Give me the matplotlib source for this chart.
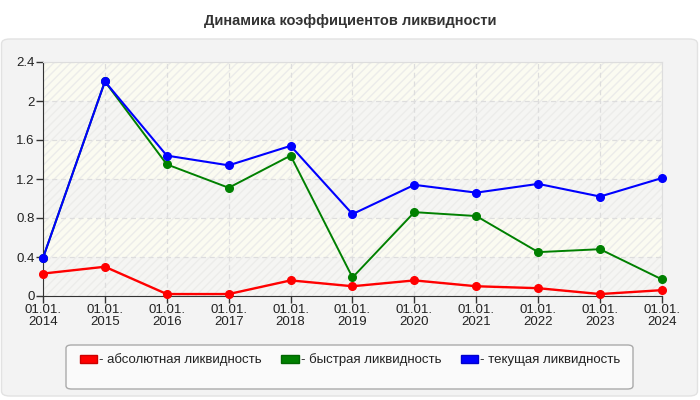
import matplotlib
matplotlib.use("Agg")
import matplotlib.pyplot as plt
from matplotlib.patches import FancyBboxPatch, Patch

plt.rcParams['font.family'] = ['Liberation Sans', 'DejaVu Sans']

# Data
dates = ["01.01.\n2014", "01.01.\n2015", "01.01.\n2016", "01.01.\n2017",
         "01.01.\n2018", "01.01.\n2019", "01.01.\n2020", "01.01.\n2021",
         "01.01.\n2022", "01.01.\n2023", "01.01.\n2024"]
absolute = [0.23, 0.30, 0.02, 0.02, 0.16, 0.10, 0.16, 0.10, 0.08, 0.02, 0.06]
quick = [0.39, 2.20, 1.35, 1.11, 1.44, 0.19, 0.86, 0.82, 0.45, 0.48, 0.17]
current = [0.39, 2.20, 1.44, 1.34, 1.54, 0.84, 1.14, 1.06, 1.15, 1.02, 1.21]
y_ticks = [0, 0.4, 0.8, 1.2, 1.6, 2.0, 2.4]
y_labels = ["0", "0.4", "0.8", "1.2", "1.6", "2", "2.4"]

fig = plt.figure(figsize=(7, 4), dpi=100)
fig.patch.set_facecolor("white")

# panel behind the chart
panel = FancyBboxPatch((1.5 / 700, 4 / 400), 696 / 700, 357 / 400,
                       boxstyle="round,pad=0,rounding_size=0.012",
                       transform=fig.transFigure, facecolor="#f3f3f3",
                       edgecolor="#e2e2e2", linewidth=1, zorder=-10)
fig.patches.append(panel)

# legend box
legbox = FancyBboxPatch((66 / 700, 11 / 400), 567 / 700, 44 / 400,
                        boxstyle="round,pad=0,rounding_size=0.008",
                        transform=fig.transFigure, facecolor="#fafafa",
                        edgecolor="#aaaaaa", linewidth=1, zorder=-5)
fig.patches.append(legbox)

fig.text(0.5, 0.948, "Динамика коэффициентов ликвидности", ha="center",
         va="center", fontsize=10.5, fontweight="bold", color="#333333")

ax = fig.add_axes([43 / 700, 104 / 400, 619 / 700, 234 / 400])
ax.set_facecolor("#fcfcf6")

x = list(range(len(dates)))

# striped bands
for i in range(len(y_ticks) - 1):
    fc = "#f5f5f3" if i % 2 == 0 else "#fbfbf1"
    ax.axhspan(y_ticks[i], y_ticks[i + 1], facecolor=fc, edgecolor="#ececea",
               hatch="////", linewidth=0, zorder=0)

ax.grid(True, color="#dddddd", linestyle=(0, (4, 3)), linewidth=0.9, zorder=1)

ax.plot(x, absolute, color="#ff0000", linewidth=1.7, marker="o",
        markersize=5.5, zorder=3, clip_on=False)
ax.plot(x, quick, color="#008000", linewidth=1.4, marker="o",
        markersize=5.5, zorder=4, clip_on=False)
ax.plot(x, current, color="#0000ff", linewidth=1.5, marker="o",
        markersize=5.5, zorder=5, clip_on=False)

ax.set_xlim(0, len(dates) - 1)
ax.set_ylim(0, 2.4)
ax.set_xticks(x)
ax.set_xticklabels(dates, fontsize=9.5, color="#222222", linespacing=1.0)
ax.set_yticks(y_ticks)
ax.set_yticklabels(y_labels, fontsize=9.5, color="#222222")
ax.tick_params(length=5, width=1, color="#333333", pad=1)

for side in ["left", "bottom"]:
    ax.spines[side].set_color("#333333")
for side in ["top", "right"]:
    ax.spines[side].set_color("#dddddd")

handles = [Patch(facecolor="#ff0000", edgecolor="#cc0000"),
           Patch(facecolor="#008000", edgecolor="#006600"),
           Patch(facecolor="#0000ff", edgecolor="#0000cc")]
labels = ["- абсолютная ликвидность", "- быстрая ликвидность",
          "- текущая ликвидность"]
leg = fig.legend(handles, labels, loc="center", ncol=3,
                 bbox_to_anchor=(350 / 700, 1 - 360 / 400), fontsize=9.5,
                 frameon=False, handlelength=1.3, handleheight=0.62,
                 handletextpad=0.15, columnspacing=1.5,
                 labelcolor="#222222")

fig.savefig("out.png", dpi=100)
